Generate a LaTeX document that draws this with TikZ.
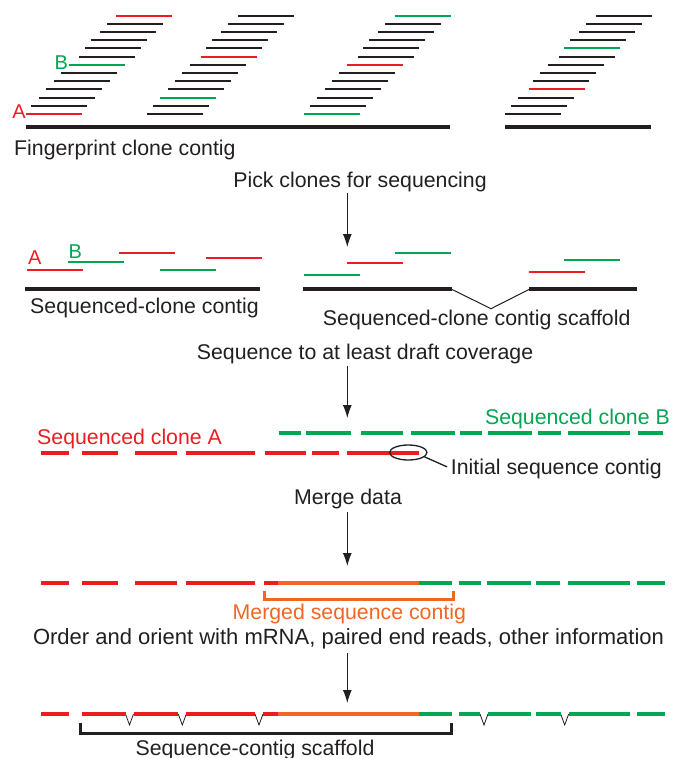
\documentclass[tikz,border=0pt]{standalone}
\usepackage{fontspec}
\setmainfont{Liberation Sans}
\usetikzlibrary{arrows.meta,shapes.geometric}
\definecolor{cred}{RGB}{237,28,36}
\definecolor{cgreen}{RGB}{0,166,81}
\definecolor{corange}{RGB}{242,101,34}
\definecolor{cblack}{RGB}{35,31,32}
\begin{document}
\begin{tikzpicture}[x=1pt,y=-1pt,
  txt/.style={inner sep=0pt,text=cblack,font=\fontsize{21.3}{25}\selectfont},
  lbl/.style={inner sep=0pt,font=\fontsize{20}{24}\selectfont},
  clone/.style={line width=2pt,cblack},
  chrom/.style={line width=4.5pt,cblack},
  dashseg/.style={line width=4pt},
  notch/.style={line width=0.8pt,cblack},
  arr/.style={-{Latex[length=13pt,width=9pt]},line width=1pt,cblack},
  brk/.style={line width=3pt}]
\useasboundingbox (0,0) rectangle (673,758);
% fingerprint clone contig
\foreach \gx/\nb in {26/-1,147.3/-1,304.3/-1,505.3/3}
  \foreach \dx [count=\i from 0] in {0,5.4,12.7,20.2,27.6,35,42.5,53.3,59,64.7,73.7,81,90.3}
    {\ifnum\i=\nb\else\draw[clone] (\gx+\dx,114-8.2*\i) -- ++(56,0);\fi}
\foreach \cx/\ci/\cc in {26/0/cred,68.5/6/cgreen,116.3/12/cred,160/2/cgreen,200.6/7/cred,
    304.3/0/cgreen,346.8/6/cred,394.6/12/cgreen,529.3/3/cred,564.3/8/cgreen}
  \draw[clone,\cc] (\cx,114-8.2*\ci) -- ++(56,0);
\node[lbl,text=cred,anchor=base west] (tA) at (12.3,118.3) {A};
\node[lbl,text=cgreen,anchor=base west] (tB) at (54.3,69.3) {B};
\draw[chrom] (26,127) -- (450,127);
\draw[chrom] (505.3,127) -- (651.3,127);
\node[txt,anchor=base west] (fp) at (14,155) {Fingerprint clone contig};
\node[txt,anchor=base] (pick) at (360,187) {Pick clones for sequencing};
\coordinate (s1) at (347.3,193);
\coordinate (e1) at (347.3,247);
\draw[arr] (s1) -- (e1);
% sequenced clones
\node[lbl,text=cred,anchor=base west] (mA) at (28,264) {A};
\node[lbl,text=cgreen,anchor=base west] (mB) at (68.3,258) {B};
\foreach \cx/\cy/\cc in {27.3/270/cred,68.3/262/cgreen,119/252.7/cred,160.3/270.3/cgreen,205.7/258.3/cred,
    304/275/cgreen,347.3/263/cred,394.7/253/cgreen,529.3/272.3/cred,564.3/260.3/cgreen}
  \draw[clone,\cc] (\cx,\cy) -- ++(56,0);
\draw[chrom,line width=4pt] (25.3,289.3) -- (260,289.3);
\draw[chrom,line width=4pt] (302.7,289.3) -- (451.7,289.3);
\draw[chrom,line width=4pt] (529.3,289.3) -- (636.7,289.3);
\draw[notch,line width=1pt] (451.7,289.3) -- (491,308.7) -- (529.3,289.3);
\node[txt,anchor=base] (scc) at (144.5,313) {Sequenced-clone contig};
\node[txt,anchor=base] (sccs) at (476.7,325) {Sequenced-clone contig scaffold};
\node[txt,anchor=base] (draft) at (365,359) {Sequence to at least draft coverage};
\coordinate (s2) at (347.3,366);
\coordinate (e2) at (347.3,418);
\draw[arr] (s2) -- (e2);
% draft sequence
\foreach \a/\b in {278.7/301.3,306.3/350.7,361.3/403,411.3/454.7,459.5/481.5,488/531.5,538/561.3,568/629.7,638/663}
  \draw[dashseg,cgreen] (\a,433.3) -- (\b,433.3);
\foreach \a/\b in {41/69,82/118,135/177,185.7/254.7,265/306,312/339,347/419}
  \draw[dashseg,cred] (\a,453.3) -- (\b,453.3);
\node[lbl,txt,text=cgreen,anchor=base east] (cloneB) at (670,424) {Sequenced clone B};
\node[lbl,txt,text=cred,anchor=base west] (cloneA) at (37,444) {Sequenced clone A};
\node[draw=cblack,line width=1.3pt,ellipse,minimum width=37.4pt,minimum height=15pt,inner sep=0pt] (ring) at (408.3,452.5) {};
\node[txt,anchor=base west] (init) at (450.7,474) {Initial sequence contig};
\draw[line width=1.3pt,cblack,shorten >=4pt] (ring.-15) -- (init.west);
\node[txt,anchor=base] (merge) at (348,504) {Merge data};
\coordinate (s3) at (347.3,512);
\coordinate (e3) at (347.3,566);
\draw[arr] (s3) -- (e3);
% merged
\foreach \a/\b/\cc in {41/69/cred,82/118/cred,135/177/cred,185.7/254.7/cred,264/278.5/cred,278/419/corange,
    418.7/452/cgreen,458.7/481.3/cgreen,487.3/530.7/cgreen,536.3/560.3/cgreen,568/630.3/cgreen,637/665.3/cgreen}
  \draw[dashseg,\cc] (\a,583.3) -- (\b,583.3);
\draw[brk,corange] (264,590.7) -- (264,599.3) -- (453,599.3) -- (453,590.7);
\node[txt,text=corange,anchor=base] (mcontig) at (349.3,619.3) {Merged sequence contig};
\node[txt,font=\fontsize{22}{26}\selectfont,anchor=base] (order) at (348.5,644) {Order and orient with mRNA, paired end reads, other information};
\coordinate (s4) at (347.3,653);
\coordinate (e4) at (347.3,703);
\draw[arr] (s4) -- (e4);
% scaffold
\foreach \vx in {129.5,182.3,259,484,564.7}
  \draw[notch] (\vx-4,714) -- (\vx,725) -- (\vx+4,714);
\foreach \a/\b/\cc in {41/69/cred,82/125.5/cred,133.5/178.3/cred,186.3/255/cred,263/278.5/cred,278/419/corange,
    418.7/452/cgreen,458.7/480/cgreen,488/530.7/cgreen,536.3/560.7/cgreen,568.7/630.3/cgreen,637/665.3/cgreen}
  \draw[dashseg,\cc] (\a,714) -- (\b,714);
\draw[brk,cblack] (80,723) -- (80,733) -- (451,733) -- (451,723);
\node[txt,anchor=base] (scaf) at (255,755) {Sequence-contig scaffold};
\end{tikzpicture}
\end{document}
